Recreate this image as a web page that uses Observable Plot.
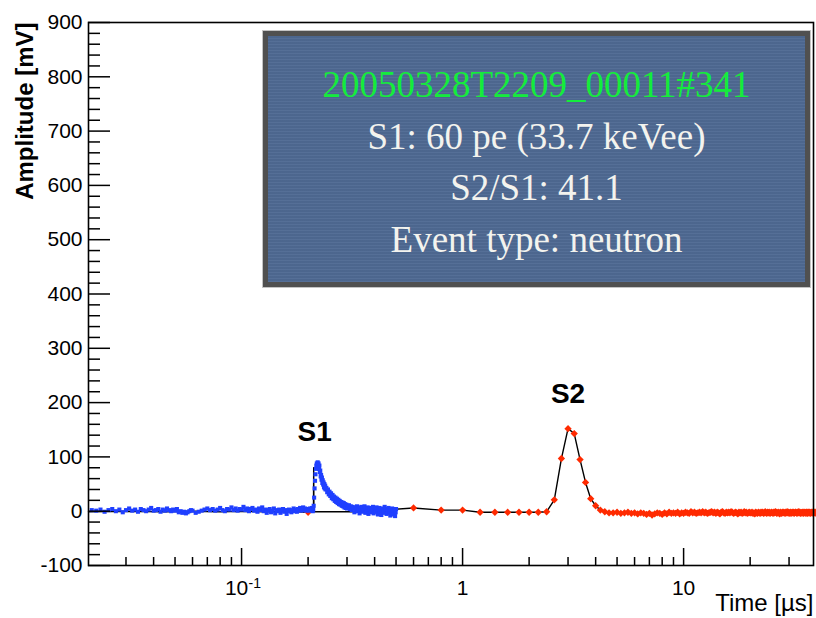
<!DOCTYPE html>
<html><head><meta charset="utf-8">
<script src="https://cdn.jsdelivr.net/npm/d3@7"></script>
<script src="https://cdn.jsdelivr.net/npm/@observablehq/plot@0.6"></script>
<style>
html,body{margin:0;padding:0;background:#fff;}
#wrap{position:relative;width:816px;height:618px;overflow:hidden;}
#info{position:absolute;left:263px;top:31px;width:547px;height:256px;box-sizing:border-box;border:5px solid #505050;outline:1px solid #c4c4c4;
 background:repeating-linear-gradient(0deg,rgba(255,255,255,0.035) 0 1px,rgba(0,0,0,0.035) 1px 3px),#4f6a93;
 font-family:"Liberation Serif","DejaVu Serif",serif;color:#f3f3ee;text-align:center;}
#info div{position:absolute;left:0;right:0;font-size:37px;line-height:1;white-space:nowrap;}
</style></head><body>
<div id="wrap"><div id="chart"></div><div id="info"></div></div>
<script>
// ---- blue trace (S1 fine sampling), time in ns, amplitude in mV
const blueTimeNs = [
21,22,23,24,25,26,27,28,29,30,31,32,33,34,35,36,37,38,39,40,41,42,43,44,45,46,47,48,49,50,51,52,53,54,55,56,57,58,59,60,
62,64,66,68,70,72,74,76,78,80,82,84,86,88,90,92,94,96,98,100,102,104,106,108,110,112,114,116,118,120,122,124,126,128,130,132,134,136,138,140,142,144,146,148,150,152,154,156,158,160,162,164,166,168,170,172,174,176,178,180,182,184,186,188,190,192,194,196,198,200,
202,204,206,208,210,211,212,213,214,215,216,217,218,219,220,221,222,223,224,225,226,227,228,229,230,231,232,233,234,235,236,237,238,239,240,
242,244,246,248,250,252,254,256,258,260,262,264,266,268,270,272,274,276,278,280,282,284,286,288,290,292,294,296,298,300,
303,306,309,312,315,318,321,324,327,330,333,336,339,342,345,348,351,354,357,360,363,366,369,372,375,378,381,384,387,390,393,396,399,402,405,408,411,414,417,420,423,426,429,432,435,438,441,444,447,450,453,456,459,462,465,468,471,474,477,480,483,486,489,492,495,498,500];
const blueMv = [
2,1,3,-1,2,4,0,3,-2,2, 5,1,3,-1,4,2,0,3,6,1, 2,4,-1,3,1,5,2,0,3,1, 4,-2,0,-3,-1,-4,-2,0,2,1,
-3,-1,1,3,5,2,4,1,3,6, 2,0,4,3,7,2,5,1,4,3, 8,2,5,0,4,6,1,3,-1,5, 2,7,0,3,-3,2,4,-2,1,5, -4,2,0,3,-3,1,4,-1,2,-5, 1,3,0,-2,2,5,0,3,-1,4, 2,6,1,3,7,2,5,1,4,3,
1,5,2,6,0, 3,10,25,42,56,68,78,84,88,86, 90,83,88,78,84,72,75,64,67,58, 62,52,57,49,53,44,50,42,47,40,
43,35,40,31,36,28,33,24,30,22, 27,19,25,17,23,15,21,13,19,12, 17,10,16,9,15,7,13,6,12,5,
6,11,4,9,2,8,5,-2,7,3, 9,0,6,-4,4,8,-1,5,2,9, -3,4,0,7,-5,3,6,-2,5,1, 8,-4,2,5,-1,7,0,-6,3,6, -2,4,-7,1,5,-3,2,8,-1,3, -5,4,0,6,-3,2,-8,3,-4,5, -2,1,-6,3,-9,-2,4];

// ---- red trace (S2, 200 ns sampling), time in µs, amplitude in mV
const redTimeUs = [
0.2,0.4,0.6,0.8,1,1.2,1.4,1.6,1.8,2,2.2,2.4,2.6,2.8,3,3.2,3.4,3.6,3.8,4,
4.2,4.4,4.6,4.8,5,5.2,5.4,5.6,5.8,6,
6.2,6.4,6.6,6.8,7,7.2,7.4,7.6,7.8,8,
8.2,8.4,8.6,8.8,9,9.2,9.4,9.6,9.8,10,
10.2,10.4,10.6,10.8,11,11.2,11.4,11.6,11.8,12,
12.2,12.4,12.6,12.8,13,13.2,13.4,13.6,13.8,14,
14.2,14.4,14.6,14.8,15,15.2,15.4,15.6,15.8,16,
16.2,16.4,16.6,16.8,17,17.2,17.4,17.6,17.8,18,
18.2,18.4,18.6,18.8,19,19.2,19.4,19.6,19.8,20,
20.2,20.4,20.6,20.8,21,21.2,21.4,21.6,21.8,22,
22.2,22.4,22.6,22.8,23,23.2,23.4,23.6,23.8,24,
24.2,24.4,24.6,24.8,25,25.2,25.4,25.6,25.8,26,
26.2,26.4,26.6,26.8,27,27.2,27.4,27.6,27.8,28,
28.2,28.4,28.6,28.8,29,29.2,29.4,29.6,29.8,30,
30.2,30.4,30.6,30.8,31,31.2,31.4,31.6,31.8,32,
32.2,32.4,32.6,32.8,33,33.2,33.4,33.6,33.8,34,
34.2,34.4,34.6,34.8,35,35.2,35.4,35.6,35.8,36,
36.2,36.4,36.6,36.8,37,37.2,37.4,37.6,37.8,38,
38.2,38.4,38.6,38.8,39,39.2,39.4,39.6,39.8,40];
const redMv = [
-2,1,6,2,2,-2,-2,-2,-2,-2,-2,-1,21,97,152,143,95,53,23,10,
2,-1,-3,-3,-2,-4,-3,-2,-4,-3,
-5,-3,-4,-6,-4,-7,-5,-3,-4,-6,
-3,-5,-2,-4,-3,-4,-2,-5,-3,-4,
-2,-3,-4,-1,-3,-2,-4,-3,-2,-3,
-1,-3,-2,-4,-3,-2,-1,-3,-2,-4,
-2,-3,-5,-2,-1,-3,-4,-2,-3,-2,
-3,-1,-2,-4,-3,-2,-3,-5,-2,-3,
-2,-4,-3,-1,-3,-2,-4,-3,-2,-3,
-3,-2,-4,-3,-5,-2,-3,-4,-2,-3,
-4,-2,-3,-2,-4,-3,-1,-3,-4,-2,
-3,-2,-4,-3,-2,-3,-4,-2,-3,-1,
-2,-4,-3,-2,-3,-5,-2,-3,-4,-2,
-3,-2,-3,-4,-2,-3,-1,-3,-2,-4,
-3,-2,-4,-3,-2,-3,-2,-4,-3,-2,
-2,-3,-4,-2,-3,-1,-3,-2,-4,-3,
-3,-2,-3,-4,-2,-3,-2,-3,-4,-2,
-2,-4,-3,-2,-3,-2,-4,-3,-2,-3,
-3,-2,-4,-3,-2,-3,-2,-3,-4,-2];

// ---- black connecting line before the coarse samples (µs, mV)
const blackLeadTimeUs = [0.0203,0.03,0.045,0.06,0.08,0.1,0.13,0.16,0.2,0.2115,0.212,0.2125,0.26,0.32,0.4];
const blackLeadMv     = [-1,0,-1,0,-1,0,-1,0,-2,-1,80,-1,-1,-1,1];

// ---- annotations
const peakNames = ["S1","S2"];
const peakTimeUs = [0.214, 3.0];
const peakMv = [130, 200];
const infoLines = ["20050328T2209_00011#341","S1: 60 pe (33.7 keVee)","S2/S1: 41.1","Event type: neutron"];
const infoColors = ["#14ec3c","#f3f3ee","#f3f3ee","#f3f3ee"];

// ---- axes
const xDomain = [0.0203, 38.7];
const yDomain = [-100, 900];
const xMajor = [0.1, 1, 10];
const xMinor = [0.03,0.04,0.05,0.06,0.07,0.08,0.09,0.2,0.3,0.4,0.5,0.6,0.7,0.8,0.9,2,3,4,5,6,7,8,9,20,30];
const yMajor = [-100,0,100,200,300,400,500,600,700,800,900];
const yMinor = [-80,-60,-40,-20,20,40,60,80,120,140,160,180,220,240,260,280,320,340,360,380,420,440,460,480,520,540,560,580,620,640,660,680,720,740,760,780,820,840,860,880];
const xTitle = "Time [µs]";
const yTitle = "Amplitude [mV]";

if (blueTimeNs.length !== blueMv.length) throw new Error("blue " + blueTimeNs.length + " vs " + blueMv.length);
if (redTimeUs.length !== redMv.length) throw new Error("red " + redTimeUs.length + " vs " + redMv.length);

const blue = blueTimeNs.map((t, i) => ({t: t / 1000, v: blueMv[i]}));
const red = redTimeUs.map((t, i) => ({t, v: redMv[i]}));
const black = blackLeadTimeUs.map((t, i) => ({t, v: blackLeadMv[i]})).concat(red.filter(d => d.t > 0.5));
const peaks = peakNames.map((s, i) => ({s, t: peakTimeUs[i], v: peakMv[i]}));

const font = '"Liberation Sans", Arial, Helvetica, sans-serif';
const chart = Plot.plot({
  width: 816, height: 618,
  marginLeft: 88, marginRight: 3, marginTop: 22, marginBottom: 53,
  style: {fontFamily: font, background: "white", color: "black", overflow: "visible"},
  x: {type: "log", domain: xDomain},
  y: {domain: yDomain},
  marks: [
    Plot.line(black, {x: "t", y: "v", stroke: "black", strokeWidth: 1.4}),
    Plot.dot(red, {x: "t", y: "v", symbol: "diamond2", r: 3.3, fill: "#ff2a00", stroke: "none"}),
    Plot.dot(blue, {x: "t", y: "v", symbol: "square", r: 2.3, fill: "#1f3fff", stroke: "none"}),
    Plot.axisY({ticks: yMajor, tickSize: -22, fill: "none", strokeWidth: 1.5}),
    Plot.axisY({ticks: yMinor, tickSize: -12, fill: "none", strokeWidth: 1.5}),
    Plot.axisY({ticks: yMajor, tickSize: 0, tickPadding: 6, tickFormat: d => String(d), fontSize: 21, label: null}),
    Plot.axisX({ticks: xMajor, tickSize: -17, fill: "none", strokeWidth: 1.5}),
    Plot.axisX({ticks: xMinor, tickSize: -8, fill: "none", strokeWidth: 1.5}),
    Plot.axisX({ticks: [1, 10], tickSize: 0, tickPadding: 15, tickFormat: d => String(d), fontSize: 21, label: null}),
    Plot.axisX({ticks: [0.1], tickSize: 0, tickPadding: 15, tickFormat: () => "10", fontSize: 21, dx: -5, label: null}),
    Plot.text(["-1"], {x: [0.1], text: d => d, frameAnchor: "bottom", textAnchor: "start", lineAnchor: "bottom", dx: 7, dy: 22, fontSize: 14}),
    Plot.frame({stroke: "black", strokeWidth: 1.6}),
    Plot.text(peaks, {x: "t", y: "v", text: "s", fontSize: 28, fontWeight: "bold", lineAnchor: "bottom"}),
    Plot.text([yTitle], {text: d => d, frameAnchor: "top-left", rotate: -90, textAnchor: "end", lineAnchor: "bottom", dx: -56, fontSize: 24, fontWeight: "bold"}),
    Plot.text([xTitle], {text: d => d, frameAnchor: "bottom-right", textAnchor: "end", lineAnchor: "bottom", dy: 45, fontSize: 24})
  ]
});
document.getElementById("chart").appendChild(chart);

const info = document.getElementById("info");
const lineTops = [30, 82, 133, 185];
infoLines.forEach((s, i) => {
  const d = document.createElement("div");
  d.textContent = s;
  d.style.top = lineTops[i] + "px";
  d.style.color = infoColors[i];
  info.appendChild(d);
});
</script>
</body></html>
